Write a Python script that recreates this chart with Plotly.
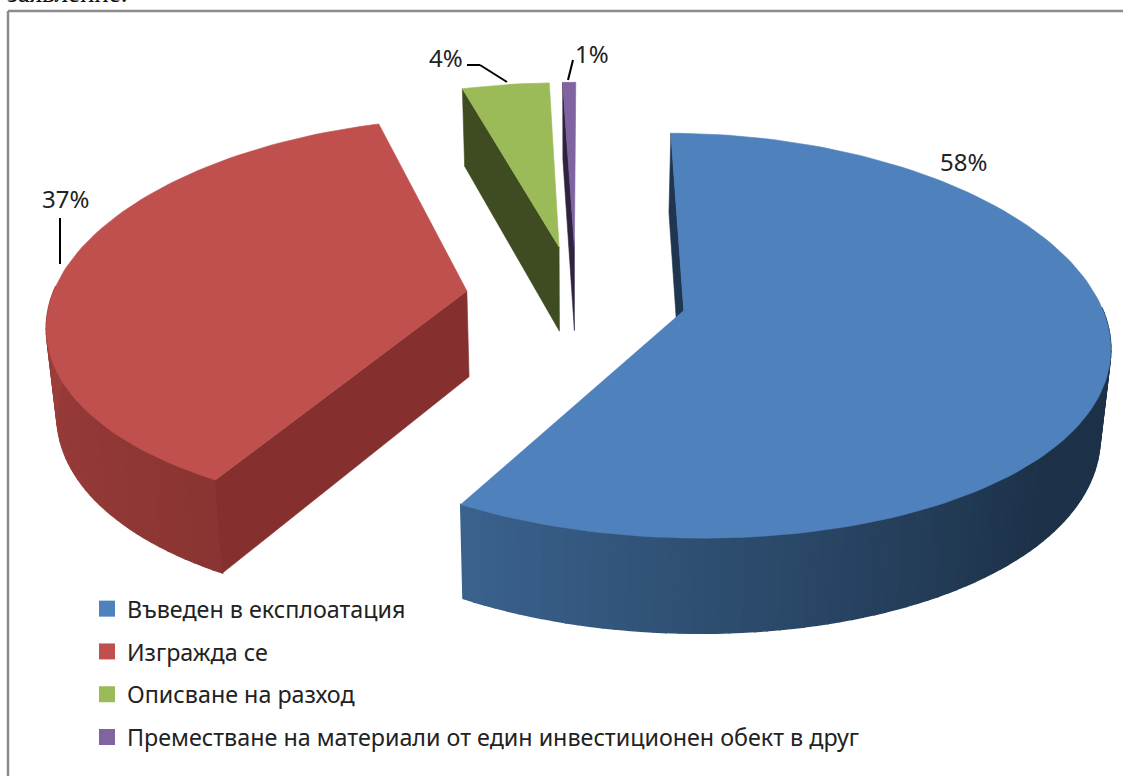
import numpy as np
import plotly.graph_objects as go

categories = ["Въведен в експлоатация", "Изгражда се", "Описване на разход",
              "Преместване на материали от един инвестиционен обект в друг"]
values = [58.2, 37.2, 4.0, 0.6]
labels = ["58%", "37%", "4%", "1%"]
top_colors = ["#4F81BD", "#C0504D", "#9BBB59", "#8064A2"]
inner_colors = ["#1F3550", "#85302F", "#3F4C21", "#2F2440"]
wall_light = ["#3C6591", "#A8433F", "#5C7034", "#4C3C61"]
wall_dark = ["#1D3249", "#8A3533", "#3F4C21", "#2F2440"]

# view parameters
CX, CY, A, B, H = 576, 297, 415, 196, 86
PX, PY, PZ, G, EXPL = 0.15, 0.123, 0.09, 0.02, 0.266
ROT = np.radians(0.2)


def project(X, Y, Z):
    X, Y, Z = np.asarray(X, float), np.asarray(Y, float), np.asarray(Z, float)
    fx = 1 / (1 + PX * Y)
    fy = 1 / (1 + PY * Y)
    fz = 1 / (1 + PZ * Y)
    return CX + A * X * fx * (1 - G * Z), CY - B * Y * fy + H * Z * fz


def hex_mix(c1, c2, t):
    a = [int(c1[i:i + 2], 16) for i in (1, 3, 5)]
    b = [int(c2[i:i + 2], 16) for i in (1, 3, 5)]
    return "rgb(%d,%d,%d)" % tuple(round(a[i] + (b[i] - a[i]) * t) for i in range(3))


def poly(fig, xs, ys, color, lw=0.6):
    fig.add_trace(go.Scatter(x=list(xs) + [xs[0]], y=list(ys) + [ys[0]], mode="lines",
                             fill="toself", fillcolor=color,
                             line=dict(color=color, width=lw),
                             hoverinfo="skip", showlegend=False))


fig = go.Figure()
total = sum(values)
edges = np.cumsum([0] + values) / total * 2 * np.pi + ROT

for i in [3, 2, 1, 0]:
    t0, t1 = edges[i], edges[i + 1]
    mid = (t0 + t1) / 2
    ox, oy = EXPL * np.sin(mid), EXPL * np.cos(mid)
    n = max(6, int((t1 - t0) / (2 * np.pi) * 240))
    th = np.linspace(t0, t1, n + 1)
    rx, ry = ox + np.sin(th), oy + np.cos(th)

    # outer wall, shaded along the rim (only the part that faces the viewer)
    if i < 2:
        for k in range(n):
            if np.cos(th[k]) > 0.02:
                continue
            xa, ya = project(rx[k:k + 2], ry[k:k + 2], [0, 0])
            xb, yb = project(rx[k:k + 2][::-1], ry[k:k + 2][::-1], [1, 1])
            if i == 0:
                s = np.clip((np.sin(th[k]) + 0.55) / 1.3, 0, 1)
            else:
                s = 1 - np.clip((th[k] - t0) / (np.pi * 0.5), 0, 1)
            poly(fig, np.r_[xa, xb], np.r_[ya, yb], hex_mix(wall_light[i], wall_dark[i], s), 1.5)

    # inner wall on the leading edge
    ex, ey = ox + np.sin(t0), oy + np.cos(t0)
    x1, y1 = project([ox, ex], [oy, ey], [0, 0])
    x2, y2 = project([ex, ox], [ey, oy], [1, 1])
    poly(fig, np.r_[x1, x2], np.r_[y1, y2], inner_colors[i])

    # top face
    xt, yt = project(np.r_[ox, rx], np.r_[oy, ry], np.zeros(n + 2))
    poly(fig, xt, yt, top_colors[i])

# legend entries
for i, name in enumerate(categories):
    fig.add_trace(go.Scatter(x=[None], y=[None], mode="markers", name=name,
                             legendgroup=name,
                             marker=dict(symbol="square", size=16, color=top_colors[i])))

label_pos = [(963, 161), (65, 198), (446, 57), (592, 53)]
annotations = [dict(x=p[0], y=p[1], xref="x", yref="y", text=t, showarrow=False,
                    font=dict(family="Noto Sans", size=24, color="#222222"))
               for p, t in zip(label_pos, labels)]
annotations.append(dict(x=130 / 1123, y=1, xref="paper", yref="paper", xanchor="right", yanchor="middle",
                        yshift=7, text="заявление.", showarrow=False,
                        font=dict(family="Liberation Serif", size=27, color="#111111")))

leaders = [[(60, 218), (60, 264)], [(467, 65), (480, 65), (507, 82)], [(573, 60), (568, 80)]]
shapes = [dict(type="line", xref="paper", yref="paper", x0=8 / 1123, x1=1, y0=1 - 11 / 776, y1=1 - 11 / 776,
               line=dict(color="#8C8C8C", width=2.5)),
          dict(type="line", xref="paper", yref="paper", x0=8 / 1123, x1=8 / 1123, y0=0, y1=1 - 11 / 776,
               line=dict(color="#8C8C8C", width=2.5))]
for pts in leaders:
    for a, b in zip(pts[:-1], pts[1:]):
        shapes.append(dict(type="line", xref="x", yref="y", x0=a[0], y0=a[1], x1=b[0], y1=b[1],
                           line=dict(color="#000000", width=2)))

fig.update_layout(
    width=1123, height=776, margin=dict(l=0, r=0, t=0, b=0),
    paper_bgcolor="white", plot_bgcolor="white",
    xaxis=dict(range=[0, 1123], visible=False, fixedrange=True),
    yaxis=dict(range=[776, 0], visible=False, fixedrange=True),
    showlegend=True,
    legend=dict(x=87 / 1123, y=1 - 587 / 776, xanchor="left", yanchor="top", tracegroupgap=9.5,
                font=dict(family="Noto Sans", size=23.3, color="#222222"),
                bgcolor="rgba(0,0,0,0)", itemclick=False, itemdoubleclick=False),
    annotations=annotations, shapes=shapes,
)
fig.write_html("out.html", config={"displayModeBar": False},
               post_script="document.body.style.margin='0';document.body.style.overflow='hidden';")
